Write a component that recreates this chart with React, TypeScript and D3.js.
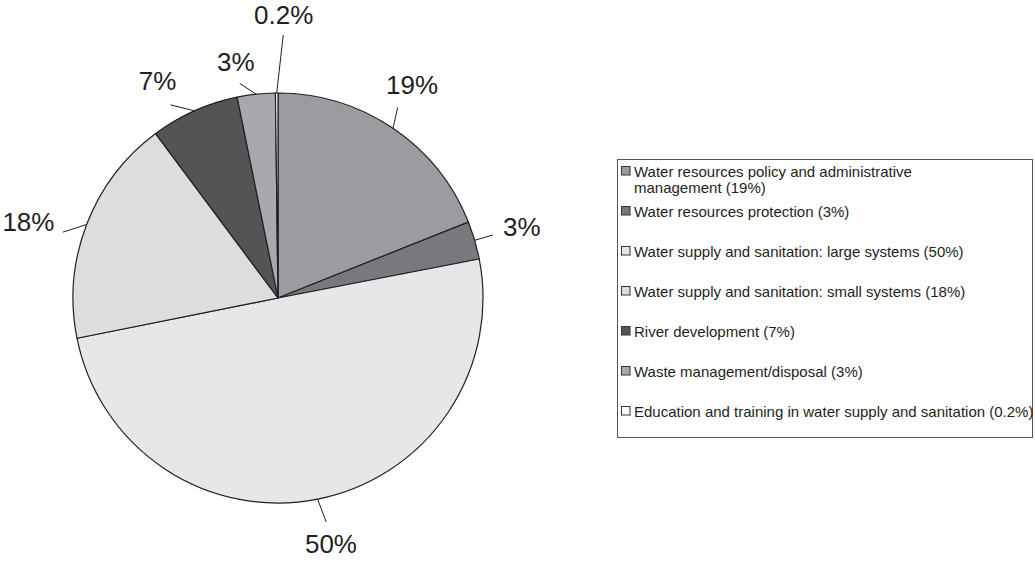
import React, { useEffect, useRef } from 'react';
import { arc, pie, select } from 'd3';

// slices clockwise from 12 o'clock
const categories = [
  'Water resources policy and administrative management',
  'Water resources protection',
  'Water supply and sanitation: large systems',
  'Water supply and sanitation: small systems',
  'River development',
  'Waste management/disposal',
  'Education and training in water supply and sanitation',
];
const shares = [19, 3, 50, 18, 7, 3, 0.2];
const pctLabels = ['19%', '3%', '50%', '18%', '7%', '3%', '0.2%'];
const legendLines = [
  ['Water resources policy and administrative', 'management (19%)'],
  ['Water resources protection (3%)'],
  ['Water supply and sanitation: large systems (50%)'],
  ['Water supply and sanitation: small systems (18%)'],
  ['River development (7%)'],
  ['Waste management/disposal (3%)'],
  ['Education and training in water supply and sanitation (0.2%)'],
];
const fills = ['#9b9c9f', '#78797c', '#e6e7e9', '#dcdddf', '#535456', '#a8a9ac', '#ffffff'];

// label placement tweaks (degrees offset, radius, gap between leader end and label centre)
const labelAdj = [
  { da: -2, r: 252, gap: 27 },
  { da: 0, r: 254, gap: 30 },
  { da: -1, r: 252, gap: 23 },
  { da: -4, r: 261, gap: 36 },
  { da: -5, r: 248, gap: 27 },
  { da: -4, r: 240, gap: 22 },
  { da: 1.5, r: 283, gap: 20 },
];

const W = 1035;
const H = 561;
const cx = 278;
const cy = 298;
const R = 205;
const ink = '#231f20';
const font = '"Liberation Sans", Arial, Helvetica, sans-serif';

const App: React.FC = () => {
  const svgRef = useRef<SVGSVGElement>(null);

  useEffect(() => {
    const svg = select(svgRef.current);
    svg.selectAll('*').remove();

    const pieGen = pie<number>().sort(null).value((d) => d);
    const arcs = pieGen(shares);
    const arcGen = arc<any>().innerRadius(0).outerRadius(R);

    const g = svg.append('g').attr('transform', `translate(${cx},${cy})`);

    g.selectAll('path.slice')
      .data(arcs)
      .join('path')
      .attr('class', 'slice')
      .attr('d', arcGen)
      .attr('fill', (d, i) => fills[i])
      .attr('stroke', ink)
      .attr('stroke-width', 1.2)
      .attr('stroke-linejoin', 'round');

    const pt = (a: number, r: number) => [Math.sin(a) * r, -Math.cos(a) * r];

    arcs.forEach((d, i) => {
      const mid = (d.startAngle + d.endAngle) / 2;
      const la = mid + (labelAdj[i].da * Math.PI) / 180;
      const lr = labelAdj[i].r;
      const [x1, y1] = pt(mid, R);
      const [x2, y2] = pt(la, lr - labelAdj[i].gap);
      const [tx, ty] = pt(la, lr);
      g.append('line')
        .attr('x1', x1)
        .attr('y1', y1)
        .attr('x2', x2)
        .attr('y2', y2)
        .attr('stroke', ink)
        .attr('stroke-width', 1);
      g.append('text')
        .attr('x', tx)
        .attr('y', ty)
        .attr('text-anchor', 'middle')
        .attr('dominant-baseline', 'central')
        .attr('font-family', font)
        .attr('font-size', 26)
        .attr('fill', ink)
        .text(pctLabels[i]);
    });

    // legend
    const lg = svg.append('g');
    lg.append('rect')
      .attr('x', 617.5)
      .attr('y', 159.5)
      .attr('width', 415)
      .attr('height', 278)
      .attr('fill', 'none')
      .attr('stroke', '#555')
      .attr('stroke-width', 1);

    const rowY = [171, 211, 251, 291, 331, 371, 411];
    categories.forEach((c, i) => {
      const y = rowY[i];
      lg.append('rect')
        .attr('x', 621.5)
        .attr('y', y - 4.5)
        .attr('width', 8.5)
        .attr('height', 8.5)
        .attr('fill', fills[i])
        .attr('stroke', '#333')
        .attr('stroke-width', 1);
      legendLines[i].forEach((t, j) => {
        lg.append('text')
          .attr('x', 634)
          .attr('y', y + j * 16)
          .attr('dominant-baseline', 'central')
          .attr('font-family', font)
          .attr('font-size', 15)
          .attr('fill', ink)
          .text(t);
      });
    });
  }, []);

  return (
    <div style={{ position: 'absolute', left: 0, top: 0 }}>
      <svg ref={svgRef} width={W} height={H} style={{ display: 'block', background: '#fff' }} />
    </div>
  );
};

export default App;
